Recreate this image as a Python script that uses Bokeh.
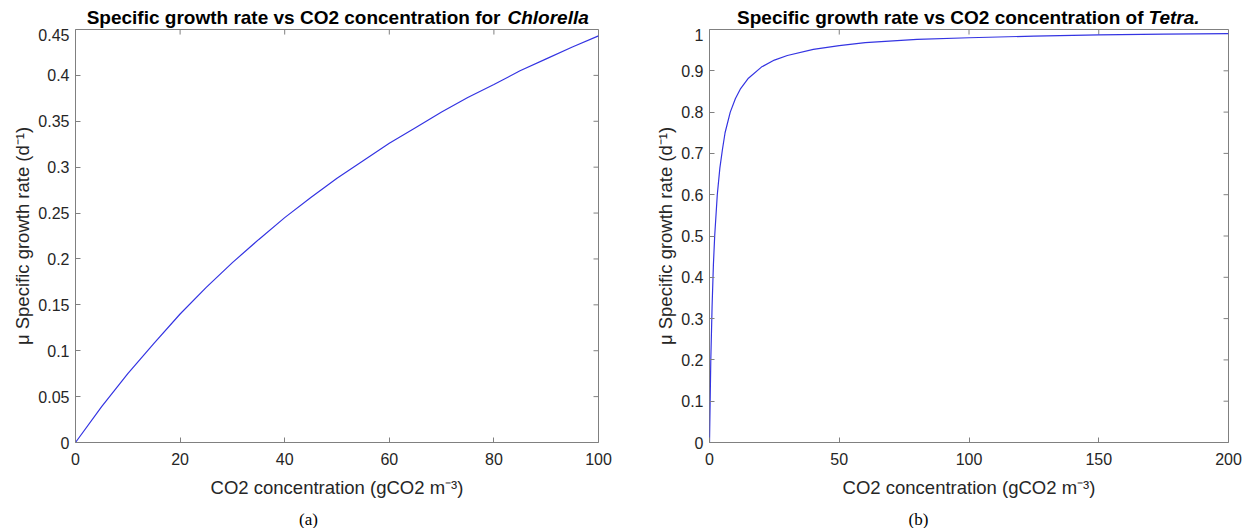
from bokeh.plotting import figure
from bokeh.models import Range1d, FixedTicker
from bokeh.layouts import row, column
from bokeh.core.properties import value
from bokeh.embed import file_html
from bokeh.resources import INLINE

# ---- data ----
chl_x = [0, 5, 10, 15, 20, 25, 30, 35, 40, 45, 50, 55, 60, 65, 70, 75, 80, 85, 90, 95, 100]
chl_y = [0, 0.039, 0.075, 0.108, 0.140, 0.169, 0.196, 0.221, 0.245, 0.267, 0.288,
         0.307, 0.326, 0.343, 0.360, 0.376, 0.390, 0.405, 0.418, 0.431, 0.443]

tet_x = [0, 0.5, 1, 1.5, 2, 3, 4, 5, 6, 8, 10, 12, 15, 20, 25, 30, 40, 50, 60, 80,
         100, 125, 150, 175, 200]
tet_y = [0, 0.20, 0.33, 0.43, 0.50, 0.60, 0.665, 0.71, 0.75, 0.80, 0.833, 0.857, 0.882,
         0.909, 0.926, 0.937, 0.952, 0.961, 0.968, 0.976, 0.980, 0.984, 0.987, 0.989, 0.990]

chl_xticks = [0, 20, 40, 60, 80, 100]
chl_yticks = [0, 0.05, 0.1, 0.15, 0.2, 0.25, 0.3, 0.35, 0.4, 0.45]
chl_ylabels = ["0", "0.05", "0.1", "0.15", "0.2", "0.25", "0.3", "0.35", "0.4", "0.45"]
tet_xticks = [0, 50, 100, 150, 200]
tet_yticks = [0, 0.1, 0.2, 0.3, 0.4, 0.5, 0.6, 0.7, 0.8, 0.9, 1]
tet_ylabels = ["0", "0.1", "0.2", "0.3", "0.4", "0.5", "0.6", "0.7", "0.8", "0.9", "1"]

title_normal = ["Specific growth rate vs CO2 concentration for",
                "Specific growth rate vs CO2 concentration of"]
title_italic = ["Chlorella", "Tetra."]
captions = ["(a)", "(b)"]

x_label = "CO2 concentration (gCO2 m\u207b\u00b3)"
y_label = "\u03bc Specific growth rate (d\u207b\u00b9)"

# ---- styling / layout ----
W = 1254
FONT = "Liberation Sans"
AX_GRAY = "#808080"
TXT = "#262626"
LINE = "#3434e2"
TITLE_H = 28
PLOT_H = 472
CAP_H = 28
FRAME_H = 408
BOTTOM = 58
TICK = 5


def style_axis(ax, ticks, labels=None):
    ax.ticker = FixedTicker(ticks=ticks)
    ax.minor_tick_line_color = None
    ax.major_tick_in = TICK
    ax.major_tick_out = 0
    ax.axis_line_color = None
    ax.major_tick_line_color = AX_GRAY
    ax.major_label_text_font = FONT
    ax.major_label_text_color = TXT
    ax.major_label_text_font_size = "16px"
    ax.axis_label_text_font = FONT
    ax.axis_label_text_font_style = "normal"
    ax.axis_label_text_color = TXT
    ax.axis_label_text_font_size = "18.5px"
    if labels is not None:
        ax.major_label_overrides = {t: l for t, l in zip(ticks, labels)}


def make_panel(xs, ys, xr, yr, xticks, yticks, ylabels, width, bl, br):
    fw = width - bl - br
    p = figure(title=None, x_range=Range1d(*xr), y_range=Range1d(*yr), width=width,
               height=PLOT_H, min_border_left=bl, min_border_right=br, min_border_top=1,
               min_border_bottom=BOTTOM,
               output_backend="svg", toolbar_location=None)
    p.outline_line_color = AX_GRAY
    p.outline_line_width = 1
    p.xgrid.visible = False
    p.ygrid.visible = False
    p.background_fill_color = "white"
    p.border_fill_color = "white"

    xa = p.xaxis[0]
    ya = p.yaxis[0]
    style_axis(xa, xticks)
    style_axis(ya, yticks, ylabels)
    xa.axis_label = x_label
    ya.axis_label = y_label
    xa.major_label_standoff = 10
    xa.axis_label_standoff = 9
    ya.major_label_standoff = 6
    ya.axis_label_standoff = 2

    # inward ticks on the top and right edges of the box (MATLAB "box on")
    dy = (yr[1] - yr[0]) * TICK / FRAME_H
    dx = (xr[1] - xr[0]) * TICK / fw
    p.segment(x0=xticks, x1=xticks, y0=[yr[1]] * len(xticks), y1=[yr[1] - dy] * len(xticks),
              line_color=AX_GRAY, line_width=1)
    p.segment(x0=[xr[1]] * len(yticks), x1=[xr[1] - dx] * len(yticks), y0=yticks, y1=yticks,
              line_color=AX_GRAY, line_width=1)

    p.line(xs, ys, line_color=LINE, line_width=1.2)
    return p


def text_strip(h):
    f = figure(title=None, x_range=Range1d(0, W), y_range=Range1d(0, h), width=W, height=h,
               min_border=0, output_backend="svg", toolbar_location=None)
    f.axis.visible = False
    f.grid.visible = False
    f.outline_line_color = None
    f.background_fill_color = "white"
    f.border_fill_color = "white"
    return f


# title strip
tf = text_strip(TITLE_H)
tf.text(x=[500, 1143], y=[11, 11], text=title_normal, text_align="right",
        text_baseline="middle", text_font=value(FONT), text_font_style="bold",
        text_font_size=value("19px"), text_color="black")
tf.text(x=[507, 1148], y=[11, 11], text=title_italic, text_align="left",
        text_baseline="middle", text_font=value(FONT), text_font_style="bold italic",
        text_font_size=value("19px"), text_color="black")

p1 = make_panel(chl_x, chl_y, (0, 100), (0, 0.45), chl_xticks, chl_yticks, chl_ylabels,
                652, 75, 54)
p2 = make_panel(tet_x, tet_y, (0, 200), (0, 1), tet_xticks, tet_yticks, tet_ylabels,
                602, 52, 26)

# caption strip
cf = text_strip(CAP_H)
cf.text(x=[308, 918], y=[9, 9], text=captions, text_align="center",
        text_baseline="middle", text_font=value("Liberation Serif"),
        text_font_size=value("17px"), text_color="black")

layout = column(tf, row(p1, p2), cf)
open("out.html", "w").write(file_html(layout, INLINE))
